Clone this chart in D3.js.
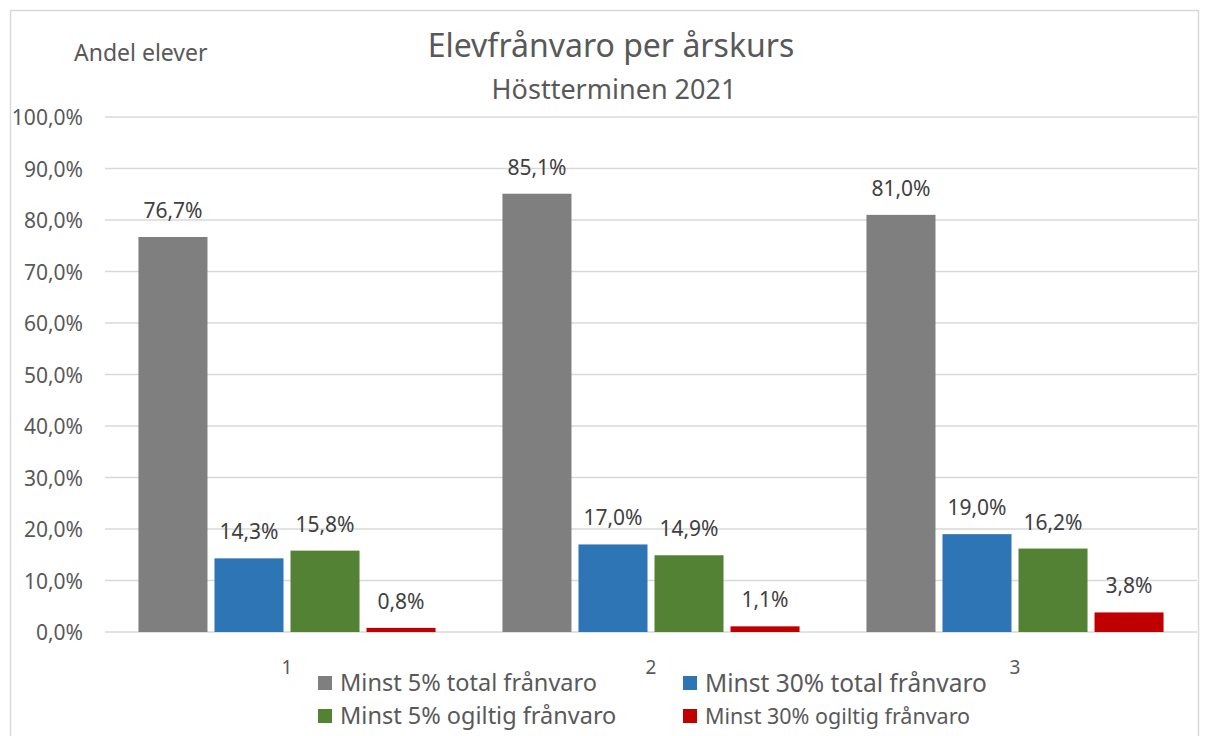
<!DOCTYPE html>
<html>
<head>
<meta charset="utf-8">
<script src="https://cdn.jsdelivr.net/npm/d3@7"></script>
<style>
  body { margin: 0; background: #fff; }
  svg text { font-family: "Noto Sans", "Open Sans", sans-serif; fill: #595959; }
</style>
</head>
<body>
<div id="container"></div>
<script>
// data
var grades = ["1", "2", "3"]
var seriesNames = [
    "Minst 5% total frånvaro",
    "Minst 30% total frånvaro",
    "Minst 5% ogiltig frånvaro",
    "Minst 30% ogiltig frånvaro"
]
var seriesColors = ["#7f7f7f", "#2e75b6", "#548235", "#c00000"]
var total5 = [76.7, 85.1, 81.0]
var total30 = [14.3, 17.0, 19.0]
var ogiltig5 = [15.8, 14.9, 16.2]
var ogiltig30 = [0.8, 1.1, 3.8]
var yTicks = [0, 10, 20, 30, 40, 50, 60, 70, 80, 90, 100]

main()

function main() {
    const width = 1208
    const height = 736
    const marginTop = 117
    const marginRight = 11
    const marginBottom = 104
    const marginLeft = 105

    var series = [total5, total30, ogiltig5, ogiltig30]
    var rows = []
    grades.forEach((g, gi) => {
        series.forEach((s, si) => {
            rows.push({grade: g, key: seriesNames[si], value: s[gi], color: seriesColors[si]})
        })
    })

    const svg = d3.select("#container").append("svg")
        .attr("width", width)
        .attr("height", height)

    // outer frame
    svg.append("rect")
        .attr("x", 10.5).attr("y", 10.5)
        .attr("width", 1188).attr("height", 740)
        .attr("fill", "none")
        .attr("stroke", "#d9d9d9")
        .attr("stroke-width", 1.5)

    const x = d3.scaleBand()
        .domain(grades)
        .range([marginLeft, width - marginRight])

    const xInner = d3.scaleBand()
        .domain(seriesNames)
        .range([0, x.bandwidth()])
        .paddingInner(0.092)
        .paddingOuter(0.44)

    const y = d3.scaleLinear()
        .domain([0, 100])
        .range([height - marginBottom, marginTop])

    // gridlines
    svg.append("g")
        .selectAll("line")
        .data(yTicks)
        .join("line")
        .attr("x1", marginLeft)
        .attr("x2", width - marginRight)
        .attr("y1", d => y(d))
        .attr("y2", d => y(d))
        .attr("stroke", "#d9d9d9")
        .attr("stroke-width", 1.5)

    // y axis labels
    const yAxis = svg.append("g")
        .attr("transform", `translate(${marginLeft - 22},0)`)
        .call(d3.axisLeft(y).tickValues(yTicks).tickSize(0).tickPadding(0)
            .tickFormat(d => d3.format(".1f")(d).replace(".", ",") + "%"))
    yAxis.select(".domain").remove()
    yAxis.selectAll("text")
        .attr("font-family", null)
        .style("font-size", "21px")
        .attr("dy", "0.36em")

    // x axis labels
    const xAxis = svg.append("g")
        .attr("transform", `translate(0,${height - marginBottom})`)
        .call(d3.axisBottom(x).tickSize(0).tickPadding(29))
    xAxis.select(".domain").remove()
    xAxis.selectAll("text")
        .attr("font-family", null)
        .style("font-size", "19px")

    // bars
    svg.append("g")
        .selectAll("rect")
        .data(rows)
        .join("rect")
        .attr("x", d => x(d.grade) + xInner(d.key))
        .attr("y", d => y(d.value))
        .attr("width", xInner.bandwidth())
        .attr("height", d => y(0) - y(d.value))
        .attr("fill", d => d.color)

    // value labels
    svg.append("g")
        .selectAll("text")
        .data(rows)
        .join("text")
        .attr("x", d => x(d.grade) + xInner(d.key) + xInner.bandwidth() / 2)
        .attr("y", d => y(d.value) - 19)
        .attr("text-anchor", "middle")
        .style("font-size", "21px")
        .style("fill", "#404040")
        .text(d => d.value.toFixed(1).replace(".", ",") + "%")

    // titles
    svg.append("text")
        .attr("x", 611)
        .attr("y", 57)
        .attr("text-anchor", "middle")
        .style("font-size", "32px")
        .text("Elevfrånvaro per årskurs")

    svg.append("text")
        .attr("x", 614)
        .attr("y", 99)
        .attr("text-anchor", "middle")
        .style("font-size", "27px")
        .text("Höstterminen 2021")

    svg.append("text")
        .attr("x", 74)
        .attr("y", 61)
        .style("font-size", "23px")
        .text("Andel elever")

    // legend
    var legendPos = [[318, 683], [683, 683], [318, 716], [683, 716]]
    var legendSize = [23.5, 24.5, 23.5, 21.5]
    const legend = svg.append("g")
        .selectAll("g")
        .data(seriesNames)
        .join("g")
        .attr("transform", (d, i) => `translate(${legendPos[i][0]},${legendPos[i][1]})`)
    legend.append("rect")
        .attr("x", 0).attr("y", -7)
        .attr("width", 14).attr("height", 14)
        .attr("fill", (d, i) => seriesColors[i])
    legend.append("text")
        .attr("x", 22)
        .attr("dy", "0.35em")
        .style("font-size", (d, i) => legendSize[i] + "px")
        .text(d => d)
}
</script>
</body>
</html>
